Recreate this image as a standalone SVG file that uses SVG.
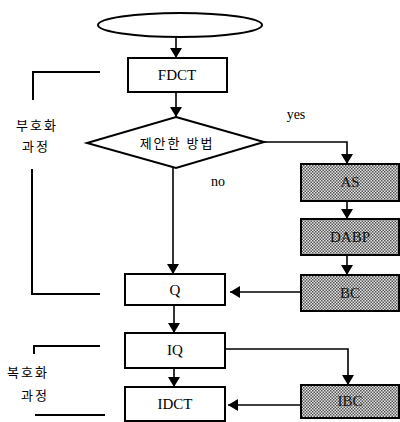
<svg xmlns="http://www.w3.org/2000/svg" width="400" height="422" viewBox="0 0 400 422">
<defs>
<pattern id="dots" width="3" height="3" patternUnits="userSpaceOnUse">
<rect width="3" height="3" fill="#e4e4e4"/>
<rect x="0" y="0" width="1.5" height="1.5" fill="#555"/>
<rect x="1.5" y="1.5" width="1.5" height="1.5" fill="#555"/>
</pattern>
<marker id="ah" viewBox="0 0 10 12" refX="10" refY="6" markerWidth="11" markerHeight="12" markerUnits="userSpaceOnUse" orient="auto">
<path d="M0,0 L10,6 L0,12 z" fill="#000"/>
</marker>
</defs>
<style>
.box{fill:#fff;stroke:#000;stroke-width:2}
.sh{fill:url(#dots);stroke:#000;stroke-width:2}
.ln{fill:none;stroke:#000;stroke-width:1.6}
.br{fill:none;stroke:#000;stroke-width:2}
.t{font-family:"Liberation Serif",serif;font-size:15px;fill:#000;text-anchor:middle}
.ts{font-family:"Liberation Serif",serif;font-size:15px;fill:#111;text-anchor:middle}
.k{font-family:"Noto Sans CJK KR",sans-serif;font-size:13px;fill:#000;text-anchor:middle;letter-spacing:2px}
</style>
<g id="start"><ellipse cx="180" cy="25" rx="82" ry="12" class="box"/></g>
<g id="fdct"><rect x="128" y="58" width="99" height="34" class="box"/><text x="177" y="80" class="t">FDCT</text></g>
<g id="decision"><polygon points="176,117 264,142 176,168 87,143" class="box"/><text x="177" y="148" class="k">제안한 방법</text></g>
<g id="as"><rect x="301" y="164" width="98" height="37" class="sh"/><text x="350" y="187" class="ts">AS</text></g>
<g id="dabp"><rect x="301" y="219" width="98" height="36" class="sh"/><text x="350" y="242" class="ts">DABP</text></g>
<g id="bc"><rect x="301" y="275" width="98" height="36" class="sh"/><text x="350" y="298" class="ts">BC</text></g>
<g id="q"><rect x="125" y="274" width="100" height="31" class="box"/><text x="175" y="295" class="t">Q</text></g>
<g id="iq"><rect x="125" y="333" width="100" height="35" class="box"/><text x="175" y="355" class="t">IQ</text></g>
<g id="idct"><rect x="125" y="387" width="100" height="34" class="box"/><text x="175" y="409" class="t">IDCT</text></g>
<g id="ibc"><rect x="301" y="385" width="98" height="33" class="sh"/><text x="350" y="406" class="ts">IBC</text></g>
<g id="labels">
<text x="296" y="119" class="t" style="font-size:14px">yes</text>
<text x="218" y="186" class="t" style="font-size:14px">no</text>
<text x="37" y="130" class="k">부호화</text>
<text x="36" y="151" class="k">과정</text>
<text x="28" y="377" class="k">복호화</text>
<text x="35" y="400" class="k">과정</text>
<path d="M100,72 H33 V100" class="br"/>
<path d="M32,169 V294 H100" class="br"/>
<path d="M100,346 H34 V354" class="br"/>
<path d="M35,415 H105" class="br"/>
</g>
<g id="connectors">
<path d="M176,37 V58" class="ln" marker-end="url(#ah)"/>
<path d="M176,92 V117" class="ln" marker-end="url(#ah)"/>
<path d="M173,168 V274" class="ln" marker-end="url(#ah)"/>
<path d="M264,142 H347 V164" class="ln" marker-end="url(#ah)"/>
<path d="M347,201 V219" class="ln" marker-end="url(#ah)"/>
<path d="M347,255 V275" class="ln" marker-end="url(#ah)"/>
<path d="M301,292 H230" class="ln" marker-end="url(#ah)"/>
<path d="M174,305 V333" class="ln" marker-end="url(#ah)"/>
<path d="M225,349 H348 V385" class="ln" marker-end="url(#ah)"/>
<path d="M174,368 V387" class="ln" marker-end="url(#ah)"/>
<path d="M301,405 H228" class="ln" marker-end="url(#ah)"/>
</g>
</svg>
